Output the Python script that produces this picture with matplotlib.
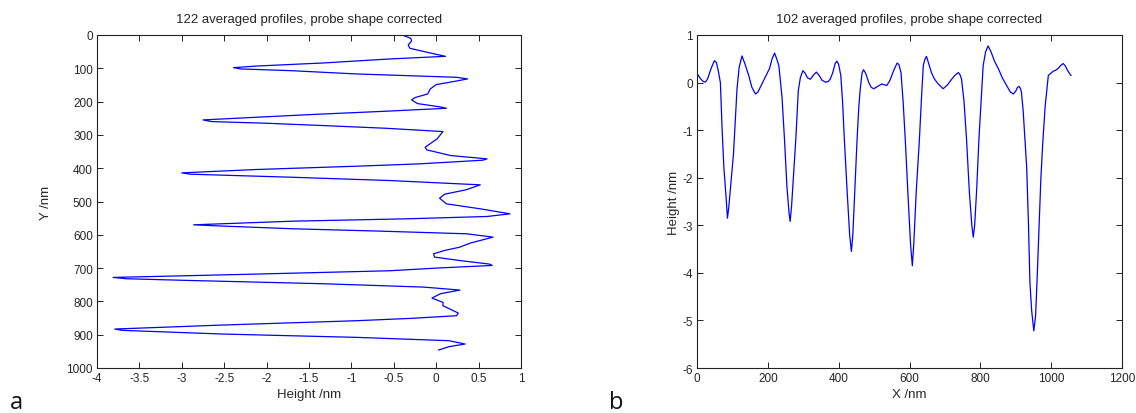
import matplotlib.pyplot as plt

# panel a: height profile along Y (nm)
height_a = [
    -0.40, -0.30, -0.29, -0.33, -0.31, -0.19, 0.00, 0.11, -0.55, -1.33,
    -2.10, -2.39, -2.30, -1.72, -0.94, 0.24, 0.37, 0.20, 0.00, -0.07,
    -0.10, -0.25, -0.29, -0.22, 0.05, 0.12, -0.60, -1.40, -2.20, -2.75,
    -2.65, -2.00, -1.33, -0.60, 0.08, 0.01, -0.13, -0.11, 0.17, 0.60,
    0.55, -0.20, -0.94, -2.13, -3.00, -2.90, -1.72, -0.55, 0.52, 0.35,
    0.10, 0.04, 0.12, 0.52, 0.87, 0.60, -0.35, -1.68, -2.86, -2.60,
    -1.68, -0.66, 0.36, 0.67, 0.40, 0.28, 0.10,
    -0.03, -0.02, 0.30, 0.63, 0.66, 0.00, -0.55, -2.13, -3.30, -3.81,
    -3.65, -2.93, -1.33, -0.15, 0.28, 0.05, -0.05, 0.08, 0.08, 0.26,
    0.24, -0.30, -0.94, -2.52, -3.79, -3.70, -2.52, -0.94, 0.15, 0.34,
    0.15, 0.03,
]
y_a = [
    0, 10, 18, 30, 40, 47, 58, 64, 72, 84,
    93, 98, 102, 107, 117, 127, 132, 140, 149, 162,
    177, 188, 195, 206, 216, 220, 229, 238, 248, 255,
    260, 265, 272, 280, 290, 312, 337, 345, 362, 372,
    376, 387, 394, 404, 414, 418, 427, 437, 450, 465,
    478, 490, 507, 522, 537, 545, 552, 559, 570, 573,
    582, 589, 597, 607, 625, 637, 647,
    657, 667, 678, 688, 692, 700, 708, 718, 725, 728,
    732, 737, 747, 757, 766, 777, 790, 803, 813, 835,
    843, 851, 858, 871, 883, 887, 898, 908, 918, 928,
    936, 946,
]

# panel b: height profile along X (nm)
x_b = [
    1, 10, 18, 24, 30, 40, 49, 55, 61, 66,
    71, 76, 82, 86, 90, 96, 103, 108, 113, 119,
    127, 135, 146, 155, 165, 172, 180, 193, 205, 212,
    219, 225, 231, 240, 247, 254, 260, 263, 267, 273,
    279, 286, 292, 299, 305, 312, 320, 328, 337, 345,
    353, 362, 370, 376, 383, 390, 395, 400, 406, 411,
    416, 424, 431, 436, 440, 446, 452, 457, 461, 466,
    470, 476, 485, 492, 499, 510, 522, 530, 536, 545,
    555, 565, 570, 576, 582, 588, 596, 603, 608, 612,
    619, 628, 634, 639, 644, 648, 655, 662, 670, 680,
    695, 707, 719, 728, 738, 743, 747, 754, 761, 769,
    776, 780, 784, 790, 796, 802, 808, 815, 822, 830,
    840, 851, 862, 874, 885, 893, 900, 905, 909, 913,
    916, 921, 926, 931, 936, 940, 945, 951, 956, 961,
    966, 971, 976, 983, 992, 1000, 1006, 1013, 1020, 1027,
    1034, 1040, 1046, 1053, 1056,
]
height_b = [
    0.18, 0.08, 0.02, 0.01, 0.08, 0.30, 0.46, 0.42, 0.21, 0.00,
    -1.00, -1.80, -2.40, -2.85, -2.60, -2.10, -1.50, -0.80, -0.13, 0.32,
    0.56, 0.40, 0.15, -0.10, -0.24, -0.20, -0.08, 0.11, 0.30, 0.50,
    0.62, 0.50, 0.36, -0.30, -1.19, -2.20, -2.75, -2.92, -2.60, -1.90,
    -1.19, -0.17, 0.11, 0.25, 0.20, 0.10, 0.07, 0.15, 0.22, 0.15,
    0.05, 0.01, 0.02, 0.07, 0.20, 0.40, 0.45, 0.38, 0.15, -0.40,
    -1.19, -2.30, -3.20, -3.55, -3.20, -2.20, -1.19, -0.50, -0.13, 0.20,
    0.27, 0.20, 0.00, -0.10, -0.13, -0.08, -0.03, -0.05, -0.06, 0.05,
    0.25, 0.41, 0.38, 0.21, -0.40, -1.19, -2.40, -3.40, -3.85, -3.40,
    -2.30, -1.19, -0.30, 0.36, 0.50, 0.55, 0.38, 0.21, 0.08, -0.02,
    -0.13, -0.05, 0.07, 0.15, 0.21, 0.16, 0.07, -0.40, -1.19, -2.30,
    -3.00, -3.25, -3.00, -2.20, -1.19, -0.40, 0.36, 0.65, 0.77, 0.65,
    0.45, 0.29, 0.10, -0.06, -0.20, -0.24, -0.18, -0.10, -0.08, -0.12,
    -0.20, -0.60, -1.19, -1.80, -3.00, -4.20, -4.80, -5.22, -4.90, -4.00,
    -3.00, -2.00, -1.30, -0.50, 0.15, 0.20, 0.24, 0.26, 0.30, 0.36,
    0.40, 0.35, 0.26, 0.18, 0.15,
]

plt.rcParams["font.family"] = ["Liberation Sans", "DejaVu Sans"]
plt.rcParams["axes.unicode_minus"] = False
txt = "#262626"

fig = plt.figure(figsize=(11.36, 4.14), dpi=100)
ax1 = fig.add_axes([97 / 1136, 45 / 414, 424 / 1136, 333 / 414])
ax2 = fig.add_axes([697 / 1136, 45 / 414, 425 / 1136, 333 / 414])

ax1.plot(height_a, y_a, color="#0000ff", lw=0.9)
ax1.set_xlim(-4, 1)
ax1.set_ylim(1000, 0)
ax1.set_xticks([-4, -3.5, -3, -2.5, -2, -1.5, -1, -0.5, 0, 0.5, 1])
ax1.set_xticklabels(["-4", "-3.5", "-3", "-2.5", "-2", "-1.5", "-1", "-0.5", "0", "0.5", "1"])
ax1.set_yticks(range(0, 1001, 100))
ax1.set_xlabel("Height /nm", fontsize=9.5, color=txt, labelpad=3)
ax1.set_ylabel("Y /nm", fontsize=9.5, color=txt, labelpad=10)
ax1.set_title("122 averaged profiles, probe shape corrected", fontsize=9.5,
              color=txt, pad=9)

ax2.plot(x_b, height_b, color="#0000ff", lw=0.9)
ax2.set_xlim(0, 1200)
ax2.set_ylim(-6, 1)
ax2.set_xticks(range(0, 1201, 200))
ax2.set_yticks(range(-6, 2))
ax2.set_xlabel("X /nm", fontsize=9.5, color=txt, labelpad=3)
ax2.set_ylabel("Height /nm", fontsize=9.5, color=txt, labelpad=2)
ax2.set_title("102 averaged profiles, probe shape corrected", fontsize=9.5,
              color=txt, pad=9)

for ax in (ax1, ax2):
    ax.tick_params(direction="in", length=4, width=0.7, top=True, right=True,
                   labelsize=8.5, labelcolor=txt, color="#222222", pad=3)
    for sp in ax.spines.values():
        sp.set_color("#222222")
        sp.set_linewidth(0.8)

fig.text(10 / 1136, 5 / 414, "a", fontsize=17, family="Open Sans", color="#111111")
fig.text(609 / 1136, 5 / 414, "b", fontsize=17, family="Open Sans", color="#111111")

fig.savefig("out.png", dpi=100)
